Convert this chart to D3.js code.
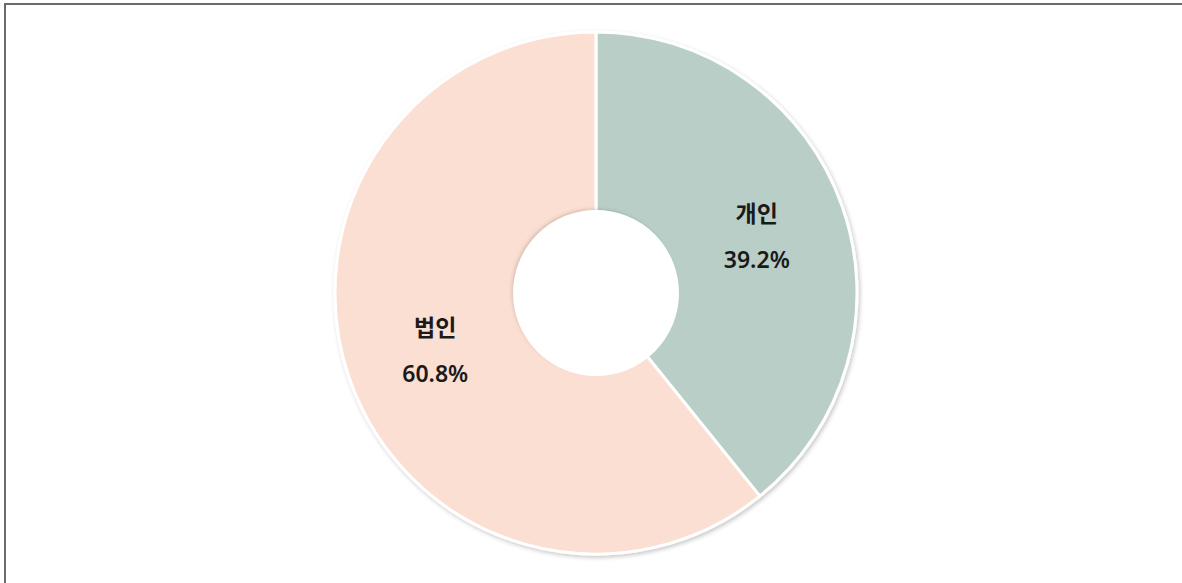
<!DOCTYPE html>
<html><head><meta charset="utf-8">
<script src="https://cdn.jsdelivr.net/npm/d3@7"></script>
<style>html,body{margin:0;padding:0;background:#fff;}svg{display:block;}</style>
</head><body>
<svg id="c" width="1182" height="583"></svg>
<script>
const categories = ["개인", "법인"];
const values = [39.2, 60.8];
const labels = ["39.2%", "60.8%"];
const colors = ["#b9cec7", "#fbdfd2"];

const svg = d3.select("#c");
const W = 1182, H = 583;
const cx = 596, cy = 293, R = 261, r = 80;

const defs = svg.append("defs");
const f = defs.append("filter").attr("id","sh").attr("x","-10%").attr("y","-10%").attr("width","120%").attr("height","120%");
f.append("feDropShadow").attr("dx",1.5).attr("dy",2).attr("stdDeviation",2).attr("flood-color","#000").attr("flood-opacity",0.22);
const fi = defs.append("filter").attr("id","ish").attr("x","-20%").attr("y","-20%").attr("width","140%").attr("height","140%");
fi.append("feDropShadow").attr("dx",-2).attr("dy",-2).attr("stdDeviation",2).attr("flood-color","#000").attr("flood-opacity",0.18);

// frame
svg.append("path").attr("d", `M5,${H} V4 H${W}`).attr("fill","none").attr("stroke","#6a6a6a").attr("stroke-width",2);

const pie = d3.pie().sort(null).value(d => d)(values);
const arc = d3.arc().innerRadius(r).outerRadius(R);
const g = svg.append("g").attr("transform", `translate(${cx},${cy})`);

g.append("g").attr("filter","url(#sh)")
  .selectAll("path").data(pie).join("path")
  .attr("d", arc).attr("fill", (d,i) => colors[i])
  .attr("stroke", "#fff").attr("stroke-width", 3).attr("stroke-linejoin","round");

// inner hole edge shadow
g.append("circle").attr("r", r + 1.5).attr("fill","#fff").attr("filter","url(#ish)");
g.append("circle").attr("r", r + 1.5).attr("fill","none").attr("stroke","#fff").attr("stroke-width",3);

const lab = g.selectAll("g.lab").data(pie).join("g").attr("class","lab")
  .attr("transform", d => { const c = arc.centroid(d); return `translate(${c[0]},${c[1]})`; });
lab.append("text").attr("text-anchor","middle").attr("y", -14)
  .attr("font-family","'Noto Sans CJK KR', 'Noto Sans', sans-serif").attr("font-weight",700)
  .attr("font-size",23).attr("fill","#1a1a1a").text((d,i) => categories[i]);
lab.append("text").attr("text-anchor","middle").attr("y", 32)
  .attr("font-family","'Noto Sans', 'Noto Sans CJK KR', sans-serif").attr("font-weight",600)
  .attr("font-size",23).attr("fill","#1a1a1a").text((d,i) => labels[i]);
</script>
</body></html>
